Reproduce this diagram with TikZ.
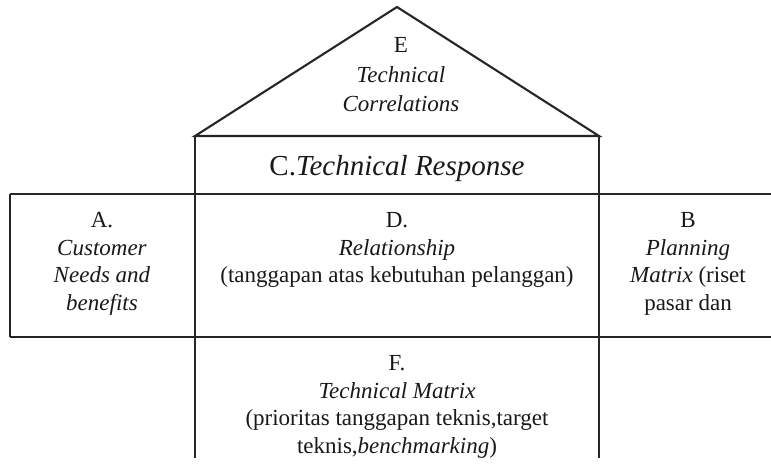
\documentclass[tikz,border=0pt]{standalone}
\usepackage{fontspec}
\setmainfont{Liberation Serif}
\begin{document}
\begin{tikzpicture}[x=1pt,y=-1pt,
  frame/.style={draw=black!85, line width=2.1pt, line join=miter},
  lbl/.style={align=center, font=\fontsize{23}{27.5}\selectfont, inner sep=0pt, text=black!90}]
\useasboundingbox[fill=white] (0,0) rectangle (771,466);
\begin{scope}
\clip (0,0) rectangle (771,457);
% roof
\draw[frame] (195,136) -- (397,7) -- (599,136) -- cycle;
% full-width band
\draw[frame] (10,194) -- (771,194);
\draw[frame] (10,337) -- (771,337);
\draw[frame] (10,194) -- (10,337);
% central column
\draw[frame] (195,136) -- (195,462);
\draw[frame] (599,136) -- (599,462);
% labels
\node[lbl, font=\fontsize{23}{29.5}\selectfont] (E) at (401,75) {E\\\textit{Technical}\\\textit{Correlations}};
\node[lbl, font=\fontsize{29}{34}\selectfont, anchor=base] (C) at (397,175) {C.\textit{Technical Response}};
\node[lbl] (A) at (102,264) {A.\\\textit{Customer}\\\textit{Needs and}\\\textit{benefits}};
\node[lbl] (D) at (397,250) {D.\\\textit{Relationship}\\(tanggapan atas kebutuhan pelanggan)};
\node[lbl] (B) at (688,264) {B\\\textit{Planning}\\\textit{Matrix} (riset\\pasar dan};
\node[lbl] (F) at (397,407) {F.\\\textit{Technical Matrix}\\(prioritas tanggapan teknis,target\\teknis,\textit{benchmarking})};
\end{scope}
\end{tikzpicture}
\end{document}
